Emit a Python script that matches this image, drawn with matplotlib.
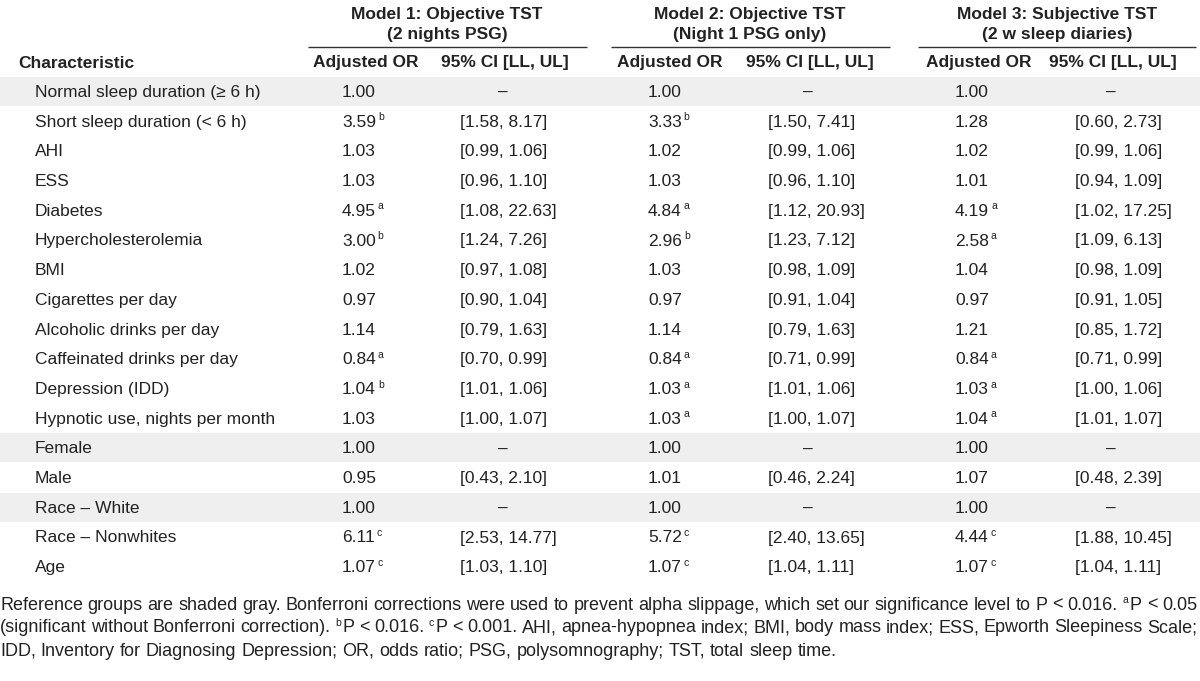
import matplotlib.pyplot as plt
from matplotlib.patches import Rectangle

# table content
characteristics = [
    'Normal sleep duration (≥ 6 h)', 'Short sleep duration (< 6 h)', 'AHI', 'ESS',
    'Diabetes', 'Hypercholesterolemia', 'BMI', 'Cigarettes per day',
    'Alcoholic drinks per day', 'Caffeinated drinks per day', 'Depression (IDD)',
    'Hypnotic use, nights per month', 'Female', 'Male', 'Race – White',
    'Race – Nonwhites', 'Age',
]
reference_rows = [0, 12, 14]

model_titles = ['Model 1: Objective TST', 'Model 2: Objective TST', 'Model 3: Subjective TST']
model_subtitles = ['(2 nights PSG)', '(Night 1 PSG only)', '(2 w sleep diaries)']

m1_or = ['1.00', '3.59', '1.03', '1.03', '4.95', '3.00', '1.02', '0.97', '1.14',
         '0.84', '1.04', '1.03', '1.00', '0.95', '1.00', '6.11', '1.07']
m1_sig = ['', 'b', '', '', 'a', 'b', '', '', '', 'a', 'b', '', '', '', '', 'c', 'c']
m1_ci = ['–', '[1.58, 8.17]', '[0.99, 1.06]', '[0.96, 1.10]', '[1.08, 22.63]',
         '[1.24, 7.26]', '[0.97, 1.08]', '[0.90, 1.04]', '[0.79, 1.63]', '[0.70, 0.99]',
         '[1.01, 1.06]', '[1.00, 1.07]', '–', '[0.43, 2.10]', '–', '[2.53, 14.77]',
         '[1.03, 1.10]']

m2_or = ['1.00', '3.33', '1.02', '1.03', '4.84', '2.96', '1.03', '0.97', '1.14',
         '0.84', '1.03', '1.03', '1.00', '1.01', '1.00', '5.72', '1.07']
m2_sig = ['', 'b', '', '', 'a', 'b', '', '', '', 'a', 'a', 'a', '', '', '', 'c', 'c']
m2_ci = ['–', '[1.50, 7.41]', '[0.99, 1.06]', '[0.96, 1.10]', '[1.12, 20.93]',
         '[1.23, 7.12]', '[0.98, 1.09]', '[0.91, 1.04]', '[0.79, 1.63]', '[0.71, 0.99]',
         '[1.01, 1.06]', '[1.00, 1.07]', '–', '[0.46, 2.24]', '–', '[2.40, 13.65]',
         '[1.04, 1.11]']

m3_or = ['1.00', '1.28', '1.02', '1.01', '4.19', '2.58', '1.04', '0.97', '1.21',
         '0.84', '1.03', '1.04', '1.00', '1.07', '1.00', '4.44', '1.07']
m3_sig = ['', '', '', '', 'a', 'a', '', '', '', 'a', 'a', 'a', '', '', '', 'c', 'c']
m3_ci = ['–', '[0.60, 2.73]', '[0.99, 1.06]', '[0.94, 1.09]', '[1.02, 17.25]',
         '[1.09, 6.13]', '[0.98, 1.09]', '[0.91, 1.05]', '[0.85, 1.72]', '[0.71, 0.99]',
         '[1.00, 1.06]', '[1.01, 1.07]', '–', '[0.48, 2.39]', '–', '[1.88, 10.45]',
         '[1.04, 1.11]']

footnote_lines = [
    'Reference groups are shaded gray. Bonferroni corrections were used to prevent alpha '
    'slippage, which set our significance level to P < 0.016. ^aP < 0.05',
    '(significant without Bonferroni correction). ^bP < 0.016. ^cP < 0.001. AHI, '
    'apnea-hypopnea index; BMI, body mass index; ESS, Epworth Sleepiness Scale;',
    'IDD, Inventory for Diagnosing Depression; OR, odds ratio; PSG, polysomnography; '
    'TST, total sleep time.',
]

FONT = ['Liberation Sans', 'DejaVu Sans']
TXT = '#222222'
FS = 12.5
FS_NOTE = 13.0

W, H = 1200, 681
fig = plt.figure(figsize=(12, 6.81), dpi=100)
ax = fig.add_axes([0, 0, 1, 1])
ax.set_xlim(0, W)
ax.set_ylim(H, 0)
ax.axis('off')
renderer = fig.canvas.get_renderer()


def width_of(t):
    return t.get_window_extent(renderer=renderer).width


# layout (pixels)
row0, row_h = 91.5, 29.7
group_cx = [447, 750, 1057]
line_spans = [(308, 587), (611, 890), (918, 1196)]
or_hdr_cx = [366, 670, 979]
ci_hdr_cx = [505, 810, 1113]
or_left = [342, 648, 955]
ci_left = [460, 768, 1075]

# header
for k in range(3):
    ax.text(group_cx[k], 14, model_titles[k], ha='center', va='center', fontsize=FS,
            fontweight='bold', family=FONT, color=TXT)
    ax.text(group_cx[k], 35, model_subtitles[k], ha='center', va='center', fontsize=FS,
            fontweight='bold', family=FONT, color=TXT)
    ax.plot(line_spans[k], [47, 47], color='#333333', lw=1.0, solid_capstyle='butt')
    ax.text(or_hdr_cx[k], 63, 'Adjusted OR', ha='center', va='center', fontsize=FS,
            fontweight='bold', family=FONT, color=TXT)
    ax.text(ci_hdr_cx[k], 63, '95% CI [LL, UL]', ha='center', va='center', fontsize=FS,
            fontweight='bold', family=FONT, color=TXT)
ax.text(18, 63, 'Characteristic', ha='left', va='center', fontsize=FS,
        fontweight='bold', family=FONT, color=TXT)

# shaded reference rows
for i in reference_rows:
    y = row0 + i * row_h
    ax.add_patch(Rectangle((0, y - 14.5), W, 29, facecolor='#efefef', edgecolor='none',
                           zorder=0))

models = [(m1_or, m1_sig, m1_ci), (m2_or, m2_sig, m2_ci), (m3_or, m3_sig, m3_ci)]
for i, name in enumerate(characteristics):
    y = row0 + i * row_h + 1
    ax.text(35, y, name, ha='left', va='center', fontsize=FS, family=FONT, color=TXT)
    for k, (ors, sigs, cis) in enumerate(models):
        t = ax.text(or_left[k], y, ors[i], ha='left', va='center', fontsize=FS,
                    family=FONT, color=TXT)
        if sigs[i]:
            ax.text(or_left[k] + width_of(t) + 2, y - 5, sigs[i], ha='left', va='center',
                    fontsize=7.5, family=FONT, color=TXT)
        if cis[i] == '–':
            ax.text(ci_hdr_cx[k] - 2, y, '–', ha='center', va='center', fontsize=FS,
                    family=FONT, color=TXT)
        else:
            ax.text(ci_left[k], y, cis[i], ha='left', va='center', fontsize=FS,
                    family=FONT, color=TXT)


def draw_note_line(line, y, justify):
    pieces = []
    for w in line.split(' '):
        if w.startswith('^'):
            pieces.append((w[1], w[2:]))
        else:
            pieces.append(('', w))
    items = []
    total = 0
    for sup, word in pieces:
        parts = []
        wd = 0
        if sup:
            ts = ax.text(0, y - 5, sup, fontsize=7.5, family=FONT, color=TXT,
                         ha='left', va='center')
            parts.append((ts, wd))
            wd += width_of(ts) + 2
        tw = ax.text(0, y, word, fontsize=FS_NOTE, family=FONT, color=TXT,
                     ha='left', va='center')
        parts.append((tw, wd))
        wd += width_of(tw)
        items.append((parts, wd))
        total += wd
    a1 = ax.text(0, y, 'a', fontsize=FS_NOTE, family=FONT, alpha=0)
    a2 = ax.text(0, y, 'a a', fontsize=FS_NOTE, family=FONT, alpha=0)
    space = width_of(a2) - 2 * width_of(a1)
    if justify:
        space = (1197 - total) / (len(items) - 1)
    x = 0
    for parts, wd in items:
        for t, off in parts:
            t.set_x(x + off)
        x += wd + space


for j, line in enumerate(footnote_lines):
    draw_note_line(line, 605 + j * 23, justify=(j < 2))

fig.savefig('out.png', dpi=100)
